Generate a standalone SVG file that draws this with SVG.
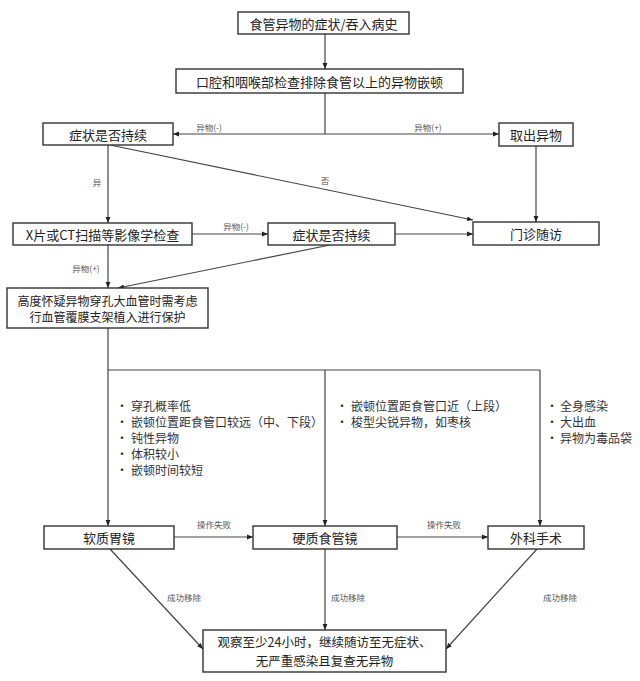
<svg xmlns="http://www.w3.org/2000/svg" width="640" height="681" viewBox="0 0 640 681">
<defs>
<style>
.box{fill:#fff;stroke:#333;stroke-width:1.4}
.t{font-family:"Noto Sans CJK SC","Noto Sans",sans-serif;fill:#222;text-anchor:middle;dominant-baseline:central}
.b{font-size:13px}
.s{font-size:12px}
.f{font-size:12.5px}
.lb{font-family:"Noto Sans CJK SC",sans-serif;fill:#555;font-size:8.5px;text-anchor:middle;dominant-baseline:central}
.li{font-family:"Noto Sans CJK SC",sans-serif;fill:#333;font-size:12px;dominant-baseline:central}
.ln{fill:none;stroke:#444;stroke-width:1.2}
</style>
<marker id="ah" viewBox="0 0 10 10" refX="10" refY="5" markerWidth="6" markerHeight="6" orient="auto" markerUnits="userSpaceOnUse">
<path d="M0,1 L10,5 L0,9 z" fill="#222"/>
</marker>
</defs>
<rect width="640" height="681" fill="#fff"/>

<g id="connectors">
<path class="ln" d="M325,34 V69" marker-end="url(#ah)"/>
<path class="ln" d="M325,93 V134"/>
<path class="ln" d="M325,134 H173" marker-end="url(#ah)"/>
<path class="ln" d="M325,134 H499" marker-end="url(#ah)"/>
<path class="ln" d="M536,146 V222" marker-end="url(#ah)"/>
<path class="ln" d="M108,145 V223" marker-end="url(#ah)"/>
<path class="ln" d="M110,145 L473,220" marker-end="url(#ah)"/>
<path class="ln" d="M192,234 H268" marker-end="url(#ah)"/>
<path class="ln" d="M395,234 H473" marker-end="url(#ah)"/>
<path class="ln" d="M108,245 V288" marker-end="url(#ah)"/>
<path class="ln" d="M330,245 L118,288" marker-end="url(#ah)"/>
<path class="ln" d="M108,328 V526" marker-end="url(#ah)"/>
<path class="ln" d="M108,370 H540"/>
<path class="ln" d="M325,370 V526" marker-end="url(#ah)"/>
<path class="ln" d="M540,370 V526" marker-end="url(#ah)"/>
<path class="ln" d="M174,537 H253" marker-end="url(#ah)"/>
<path class="ln" d="M397,537 H488" marker-end="url(#ah)"/>
<path class="ln" d="M110,549 L203,649" marker-end="url(#ah)"/>
<path class="ln" d="M325,549 V630" marker-end="url(#ah)"/>
<path class="ln" d="M537,549 L446,649" marker-end="url(#ah)"/>
<text class="lb" x="209" y="127">异物(-)</text>
<text class="lb" x="428" y="127">异物(+)</text>
<text class="lb" x="97" y="182">异</text>
<text class="lb" x="325" y="180">否</text>
<text class="lb" x="236" y="226">异物(-)</text>
<text class="lb" x="86" y="268">异物(+)</text>
<text class="lb" x="214" y="524">操作失败</text>
<text class="lb" x="444" y="524">操作失败</text>
<text class="lb" x="184" y="597">成功移除</text>
<text class="lb" x="348" y="597">成功移除</text>
<text class="lb" x="560" y="597">成功移除</text>
</g>

<g id="n1"><rect class="box" x="238" y="12" width="171" height="22"/><text class="t b" x="323.5" y="23">食管异物的症状/吞入病史</text></g>
<g id="n2"><rect class="box" x="176" y="69" width="287" height="24"/><text class="t b" x="319.5" y="81">口腔和咽喉部检查排除食管以上的异物嵌顿</text></g>
<g id="n3"><rect class="box" x="43" y="123" width="130" height="22"/><text class="t b" x="108" y="134">症状是否持续</text></g>
<g id="n4"><rect class="box" x="499" y="123" width="74" height="23"/><text class="t b" x="536" y="134.5">取出异物</text></g>
<g id="n5"><rect class="box" x="13" y="223" width="179" height="22"/><text class="t b" x="102.5" y="234">X片或CT扫描等影像学检查</text></g>
<g id="n6"><rect class="box" x="268" y="223" width="127" height="22"/><text class="t b" x="331.5" y="234">症状是否持续</text></g>
<g id="n7"><rect class="box" x="473" y="222" width="126" height="23"/><text class="t b" x="536" y="233.5">门诊随访</text></g>
<g id="n8"><rect class="box" x="7" y="288" width="201" height="40"/><text class="t s" x="107.5" y="300.5">高度怀疑异物穿孔大血管时需考虑</text><text class="t s" x="107.5" y="316.5">行血管覆膜支架植入进行保护</text></g>
<g id="l1">
<text class="li" x="116" y="405">•</text><text class="li" x="131" y="405">穿孔概率低</text>
<text class="li" x="116" y="421">•</text><text class="li" x="131" y="421">嵌顿位置距食管口较远（中、下段）</text>
<text class="li" x="116" y="437">•</text><text class="li" x="131" y="437">钝性异物</text>
<text class="li" x="116" y="453">•</text><text class="li" x="131" y="453">体积较小</text>
<text class="li" x="116" y="469">•</text><text class="li" x="131" y="469">嵌顿时间较短</text>
</g>
<g id="l2">
<text class="li" x="336" y="405">•</text><text class="li" x="351" y="405">嵌顿位置距食管口近（上段）</text>
<text class="li" x="336" y="421">•</text><text class="li" x="351" y="421">梭型尖锐异物，如枣核</text>
</g>
<g id="l3">
<text class="li" x="546" y="405">•</text><text class="li" x="560" y="405">全身感染</text>
<text class="li" x="546" y="421">•</text><text class="li" x="560" y="421">大出血</text>
<text class="li" x="546" y="437">•</text><text class="li" x="560" y="437">异物为毒品袋</text>
</g>
<g id="n9"><rect class="box" x="44" y="526" width="130" height="23"/><text class="t b" x="109" y="537.5">软质胃镜</text></g>
<g id="n10"><rect class="box" x="253" y="526" width="144" height="23"/><text class="t b" x="325" y="537.5">硬质食管镜</text></g>
<g id="n11"><rect class="box" x="488" y="526" width="96" height="23"/><text class="t b" x="536" y="537.5">外科手术</text></g>
<g id="n12"><rect class="box" x="203" y="630" width="243" height="42"/><text class="t f" x="324.5" y="641.5">观察至少24小时，继续随访至无症状、</text><text class="t f" x="324.5" y="660">无严重感染且复查无异物</text></g>
</svg>
